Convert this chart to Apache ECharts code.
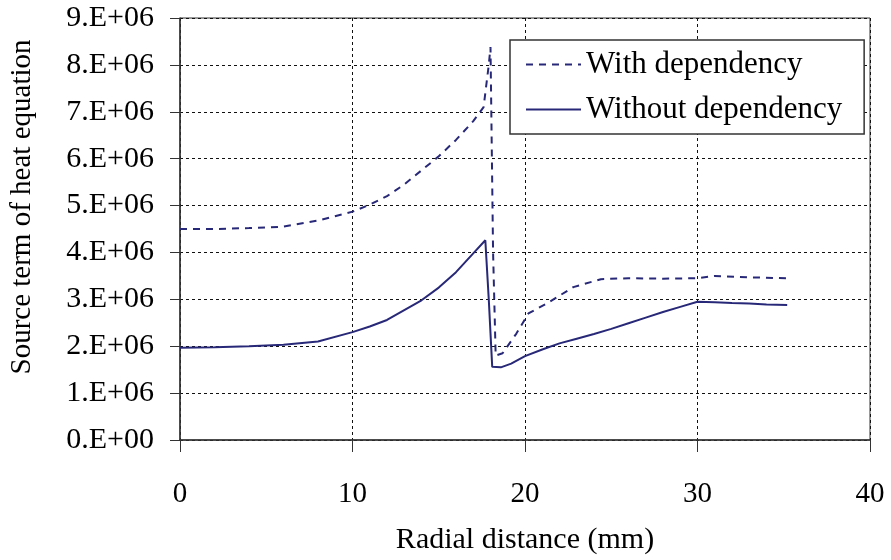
<!DOCTYPE html>
<html>
<head>
<meta charset="utf-8">
<script src="https://cdn.jsdelivr.net/npm/echarts@6/dist/echarts.min.js"></script>
<style>
  html, body { margin: 0; padding: 0; background: #fff; }
  #chart { width: 891px; height: 560px; }
</style>
</head>
<body>
<div id="chart"></div>
<script>
// radial distance (mm) / source term
const xWithout = [0, 2, 4, 6, 8, 10, 11, 12, 13, 14, 15, 16, 17, 17.7, 17.9, 18.1, 18.6, 19.2, 20, 21, 22, 23, 24, 25, 26, 27, 28, 29, 30, 31, 32, 33, 34, 35.2];
const yWithout = [1.97, 1.98, 2.0, 2.03, 2.1, 2.3, 2.42, 2.56, 2.77, 2.98, 3.25, 3.58, 3.98, 4.26, 3.0, 1.56, 1.55, 1.63, 1.79, 1.93, 2.06, 2.16, 2.26, 2.37, 2.49, 2.61, 2.73, 2.84, 2.95, 2.94, 2.92, 2.91, 2.89, 2.88];

const xWith = [0, 2, 4, 6, 8, 10, 11, 12, 13, 14, 15, 16, 17, 17.6, 17.9, 18.0, 18.15, 18.3, 18.7, 19.5, 20.2, 21.3, 22.8, 24.4, 26, 28, 30, 31, 33, 35.2];
const yWith = [4.5, 4.5, 4.52, 4.55, 4.68, 4.87, 5.02, 5.2, 5.45, 5.75, 6.05, 6.4, 6.8, 7.1, 8.0, 8.38, 4.0, 1.8, 1.85, 2.27, 2.7, 2.92, 3.26, 3.43, 3.45, 3.44, 3.45, 3.5, 3.47, 3.45];

const seriesNames = ['With dependency', 'Without dependency'];

const pairs = (xs, ys) => xs.map((x, i) => [x, ys[i] * 1e6]);

const chart = echarts.init(document.getElementById('chart'));
const serif = 'Liberation Serif';
const ink = '#282878';

chart.setOption({
    backgroundColor: '#fff',
    animation: false,
    textStyle: { fontFamily: serif, color: '#000' },
    grid: {
        left: 180, right: 21, top: 18, bottom: 120,
        outerBoundsMode: 'none', containLabel: false,
        show: true, borderColor: '#333', borderWidth: 1
    },
    legend: {
        left: 510, top: 40,
        orient: 'vertical',
        data: seriesNames,
        itemWidth: 55, itemHeight: 14, itemGap: 14,
        padding: [9, 22, 9, 15],
        borderColor: '#333', borderWidth: 1.5,
        backgroundColor: '#fff',
        itemStyle: { opacity: 0 },
        textStyle: { fontFamily: serif, fontSize: 31, color: '#000' }
    },
    xAxis: {
        type: 'value', min: 0, max: 40, interval: 10,
        name: 'Radial distance (mm)',
        nameLocation: 'middle', nameGap: 85,
        nameTextStyle: { fontFamily: serif, fontSize: 30, color: '#000' },
        axisLine: { lineStyle: { color: '#333', width: 1.5 } },
        axisTick: { length: 12, lineStyle: { color: '#333' } },
        axisLabel: { margin: 40, fontFamily: serif, fontSize: 29, color: '#000' },
        splitLine: { lineStyle: { color: '#111', type: [3, 3], width: 1 } }
    },
    yAxis: {
        type: 'value', min: 0, max: 9e6, interval: 1e6,
        name: 'Source term of heat equation',
        nameLocation: 'middle', nameGap: 143,
        nameTextStyle: { fontFamily: serif, fontSize: 29, color: '#000', padding: [0, 0, 0, 44] },
        axisLine: { show: true, lineStyle: { color: '#333', width: 1.5 } },
        axisTick: { show: true, length: 10, lineStyle: { color: '#333' } },
        axisLabel: {
            margin: 26, fontFamily: serif, fontSize: 30, color: '#000',
            formatter: v => v === 0 ? '0.E+00' : (v / 1e6) + '.E+06'
        },
        splitLine: { lineStyle: { color: '#111', type: [3, 3], width: 1 } }
    },
    series: [
        {
            name: seriesNames[0], type: 'line', symbol: 'none',
            data: pairs(xWith, yWith),
            lineStyle: { color: ink, width: 2, type: [7, 6] },
            itemStyle: { color: ink }
        },
        {
            name: seriesNames[1], type: 'line', symbol: 'none',
            data: pairs(xWithout, yWithout),
            lineStyle: { color: ink, width: 2 },
            itemStyle: { color: ink }
        }
    ]
});
</script>
</body>
</html>
